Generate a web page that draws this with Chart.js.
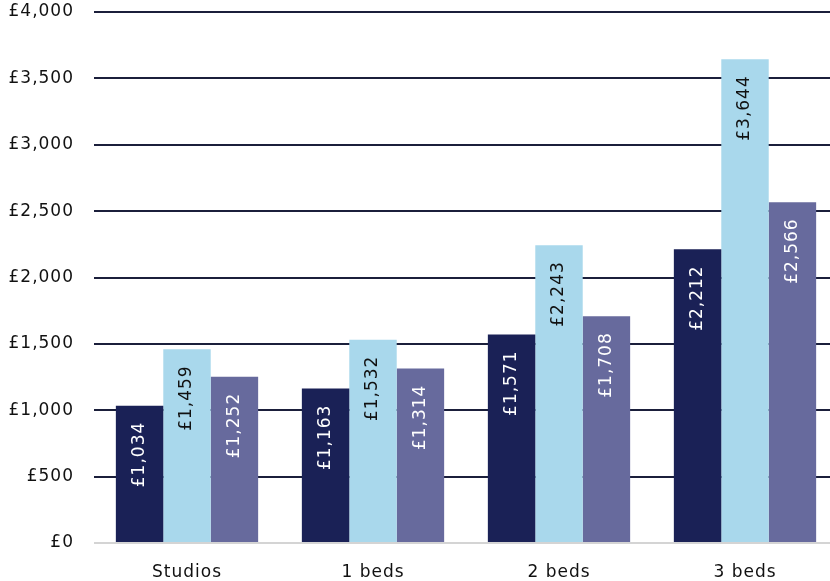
<!DOCTYPE html>
<html>
<head>
<meta charset="utf-8">
<script src="https://cdn.jsdelivr.net/npm/chart.js@4/dist/chart.umd.min.js"></script>
<style>
  html, body { margin: 0; padding: 0; background: #fff; overflow: hidden; }
  #wrap { position: relative; width: 838px; height: 581px; }
</style>
</head>
<body>
<div id="wrap"><canvas id="rents"></canvas></div>
<script>
const categories = ["Studios", "1 beds", "2 beds", "3 beds"];
const seriesA = [1034, 1163, 1571, 2212];
const seriesB = [1459, 1532, 2243, 3644];
const seriesC = [1252, 1314, 1708, 2566];

const FONT = "'DejaVu Sans', sans-serif";
const fmt = (v) => "£" + v.toLocaleString("en-GB");

// a touch of tracking on all chart text
const tracking = {
  id: "tracking",
  beforeDraw(chart) {
    chart.ctx.letterSpacing = "1px";
  },
};

// vertical value labels tucked inside the top of each bar
const barLabels = {
  id: "barLabels",
  afterDatasetsDraw(chart) {
    const ctx = chart.ctx;
    chart.data.datasets.forEach((ds, i) => {
      const meta = chart.getDatasetMeta(i);
      meta.data.forEach((bar, j) => {
        ctx.save();
        ctx.translate(bar.x, bar.y + 16);
        ctx.rotate(-Math.PI / 2);
        ctx.font = "17px " + FONT;
        ctx.letterSpacing = "1px";
        ctx.fillStyle = ds.labelColor;
        ctx.textAlign = "right";
        ctx.textBaseline = "middle";
        ctx.fillText(fmt(ds.data[j]), 0, 0);
        ctx.restore();
      });
    });
  },
};

new Chart(document.getElementById("rents"), {
  type: "bar",
  data: {
    labels: categories,
    datasets: [
      { data: seriesA, backgroundColor: "#1a2156", labelColor: "#ffffff" },
      { data: seriesB, backgroundColor: "#a9d8ec", labelColor: "#111111" },
      { data: seriesC, backgroundColor: "#676a9d", labelColor: "#ffffff" },
    ],
  },
  options: {
    responsive: true,
    maintainAspectRatio: false,
    animation: false,
    layout: { padding: { top: 12, left: 0, right: 0, bottom: 0 } },
    plugins: {
      legend: { display: false },
      tooltip: { enabled: false },
    },
    datasets: {
      bar: {
        barPercentage: 1.0,
        categoryPercentage: 0.765,
        borderWidth: 0,
      },
    },
    scales: {
      x: {
        grid: { display: false },
        border: { display: false },
        ticks: {
          color: "#111",
          font: { family: FONT, size: 17 },
          padding: 11,
        },
        afterFit: (scale) => { scale.height = 38; },
      },
      y: {
        min: 0,
        max: 4000,
        border: { display: false },
        grid: {
          drawTicks: false,
          lineWidth: 2,
          color: (c) => (c.tick && c.tick.value === 0 ? "#d4d4d4" : "#1b1f3b"),
        },
        ticks: {
          stepSize: 500,
          padding: 20,
          color: "#111",
          font: { family: FONT, size: 17 },
          callback: (v) => fmt(v),
        },
        afterFit: (scale) => {
          scale.width = 94;
          scale.paddingTop = 0;
          scale.paddingBottom = 0;
        },
      },
    },
  },
  plugins: [tracking, barLabels],
});
</script>
</body>
</html>
